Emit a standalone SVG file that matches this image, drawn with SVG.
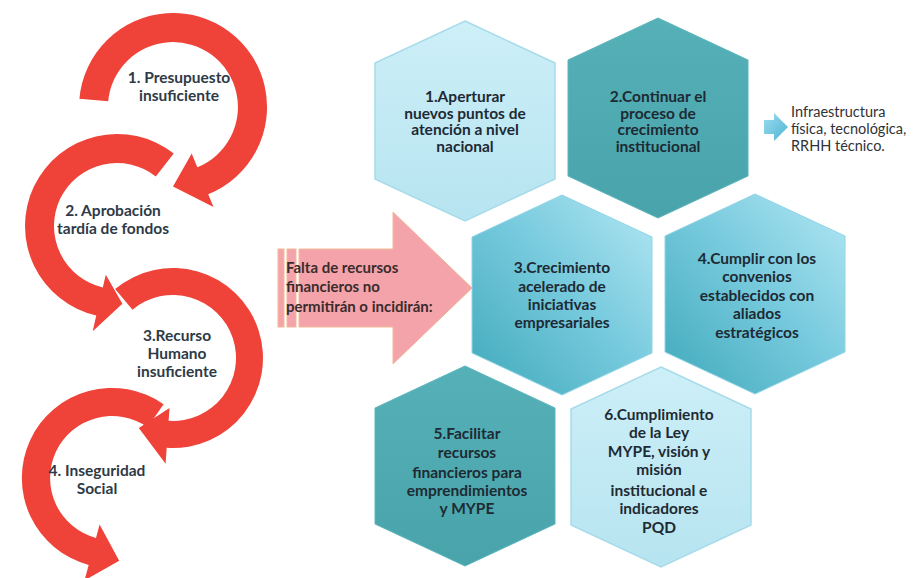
<svg xmlns="http://www.w3.org/2000/svg" width="921" height="578" viewBox="0 0 921 578">
<defs>
<linearGradient id="gLight" x1="0" y1="0" x2="0" y2="1">
<stop offset="0" stop-color="#cdeff8"/><stop offset="1" stop-color="#b6e4f0"/>
</linearGradient>
<linearGradient id="gTeal" x1="0" y1="0" x2="0" y2="1">
<stop offset="0" stop-color="#55b1b7"/><stop offset="1" stop-color="#48a4aa"/>
</linearGradient>
<linearGradient id="gMid" x1="0" y1="1" x2="1" y2="0">
<stop offset="0" stop-color="#3fa9bb"/><stop offset="0.55" stop-color="#79cbde"/><stop offset="1" stop-color="#b4e7f4"/>
</linearGradient>
<linearGradient id="gBlue" x1="0" y1="0" x2="1" y2="1">
<stop offset="0" stop-color="#9adcee"/><stop offset="1" stop-color="#4fb4d3"/>
</linearGradient>
<style>
.red{fill:#ef4238}
.lbl{font-family:Lato,"Liberation Sans",sans-serif;font-weight:bold;font-size:15.5px;fill:#2e3a46;text-anchor:middle}
.hx{font-family:Lato,"Liberation Sans",sans-serif;font-weight:bold;font-size:15.5px;fill:#1e2a33;text-anchor:middle}
.light{fill:url(#gLight);stroke:#a6dbe9;stroke-width:1.5}
.teal{fill:url(#gTeal);stroke:#5cb6bc;stroke-width:1}
.mid{fill:url(#gMid);stroke:#8fd5e6;stroke-width:1}
.pink{fill:#f5a3ab;stroke:#f2b996;stroke-width:1}
.ptxt{font-family:Lato,"Liberation Sans",sans-serif;font-weight:bold;font-size:15px;fill:#3a2c2c}
.rtxt{font-family:Lato,"Liberation Sans",sans-serif;font-size:14.5px;fill:#2f3337}
</style>
</defs>
<rect width="921" height="578" fill="#ffffff"/>

<g id="cause1">
<path class="red" d="M79.4,98.8 A94,94 0 1 1 208.2,194.2 L213.5,207.1 L173,186.5 L191.7,153.4 L197.3,167.3 A65,65 0 1 0 108.2,101.3 Z"/>
<text class="lbl" x="179" y="83">1. Presupuesto</text>
<text class="lbl" x="179" y="100.5">insuficiente</text>
</g>
<g id="cause2">
<path class="red" d="M173.7,153.5 A92,92 0 1 0 96.3,315.6 L92.7,331.2 L122.4,303.8 L105.8,274.7 L102.8,287.4 A63,63 0 1 1 155.8,176.4 Z"/>
<text class="lbl" x="113" y="216">2. Aprobación</text>
<text class="lbl" x="113" y="233.5">tardía de fondos</text>
</g>
<g id="cause3">
<path class="red" d="M115.1,289.1 A90,90 0 1 1 166.7,447.8 L165.6,463.7 L138.8,428.1 L169.5,407.9 L168.6,420.8 A63,63 0 1 0 132.5,309.7 Z"/>
<text class="lbl" x="177" y="341">3.Recurso</text>
<text class="lbl" x="177" y="359">Humano</text>
<text class="lbl" x="177" y="377">insuficiente</text>
</g>
<g id="cause4">
<path class="red" d="M163.6,404.3 A90,90 0 1 0 88.7,564.9 L84.5,580.4 L119.2,560.7 L99.6,524.4 L96,537.9 A62,62 0 1 1 147.6,427.2 Z"/>
<text class="lbl" x="97" y="476">4. Inseguridad</text>
<text class="lbl" x="97" y="493.5">Social</text>
</g>

<g id="falta">
<rect class="pink" x="278" y="249" width="6" height="78"/>
<rect class="pink" x="287" y="249" width="9" height="78"/>
<path class="pink" d="M299,249 L393,249 L393,212 L472,288 L393,364 L393,327 L299,327 Z"/>
<text class="ptxt" x="286" y="273">Falta de recursos</text>
<text class="ptxt" x="286" y="292">financieros no</text>
<text class="ptxt" x="286" y="312">permitirán o incidirán:</text>
</g>

<g id="hex1">
<polygon class="light" points="465,21 555,63 555,179 465,221 375,179 375,63"/>
<text class="hx" x="465" y="102">1.Aperturar</text>
<text class="hx" x="465" y="118.5">nuevos puntos de</text>
<text class="hx" x="465" y="135">atención  a nivel</text>
<text class="hx" x="465" y="152">nacional</text>
</g>
<g id="hex2">
<polygon class="teal" points="658,18 748,60 748,176 658,218 568,176 568,60"/>
<text class="hx" x="658" y="102">2.Continuar el</text>
<text class="hx" x="658" y="118.5">proceso de</text>
<text class="hx" x="658" y="135">crecimiento</text>
<text class="hx" x="658" y="152">institucional</text>
</g>
<g id="hex3">
<polygon class="mid" points="562,195 652,237 652,353 562,395 472,353 472,237"/>
<text class="hx" x="562" y="273">3.Crecimiento</text>
<text class="hx" x="562" y="292">acelerado de</text>
<text class="hx" x="562" y="310">iniciativas</text>
<text class="hx" x="562" y="328">empresariales</text>
</g>
<g id="hex4">
<polygon class="mid" points="755,194 845,236 845,352 755,394 665,352 665,236"/>
<text class="hx" x="757" y="264">4.Cumplir con los</text>
<text class="hx" x="757" y="282">convenios</text>
<text class="hx" x="757" y="301">establecidos con</text>
<text class="hx" x="757" y="319">aliados</text>
<text class="hx" x="757" y="338">estratégicos</text>
</g>
<g id="hex5">
<polygon class="teal" points="465,366 555,408 555,524 465,566 375,524 375,408"/>
<text class="hx" x="467" y="439">5.Facilitar</text>
<text class="hx" x="467" y="458">recursos</text>
<text class="hx" x="467" y="478">financieros  para</text>
<text class="hx" x="467" y="496">emprendimientos</text>
<text class="hx" x="467" y="514">y MYPE</text>
</g>
<g id="hex6">
<polygon class="light" points="661,367 751,409 751,525 661,567 571,525 571,409"/>
<text class="hx" x="659" y="420">6.Cumplimiento</text>
<text class="hx" x="659" y="438">de la Ley</text>
<text class="hx" x="659" y="457">MYPE, visión y</text>
<text class="hx" x="659" y="475">misión</text>
<text class="hx" x="659" y="496">institucional e</text>
<text class="hx" x="659" y="514">indicadores</text>
<text class="hx" x="659" y="533">PQD</text>
</g>

<g id="connectors">
<path d="M764,120 L774,120 L774,113 L788,127 L774,141 L774,134 L764,134 Z" fill="url(#gBlue)"/>
</g>

<g id="infra">
<text class="rtxt" x="791" y="117">Infraestructura</text>
<text class="rtxt" x="791" y="134">física, tecnológica,</text>
<text class="rtxt" x="791" y="151">RRHH técnico.</text>
</g>
</svg>
